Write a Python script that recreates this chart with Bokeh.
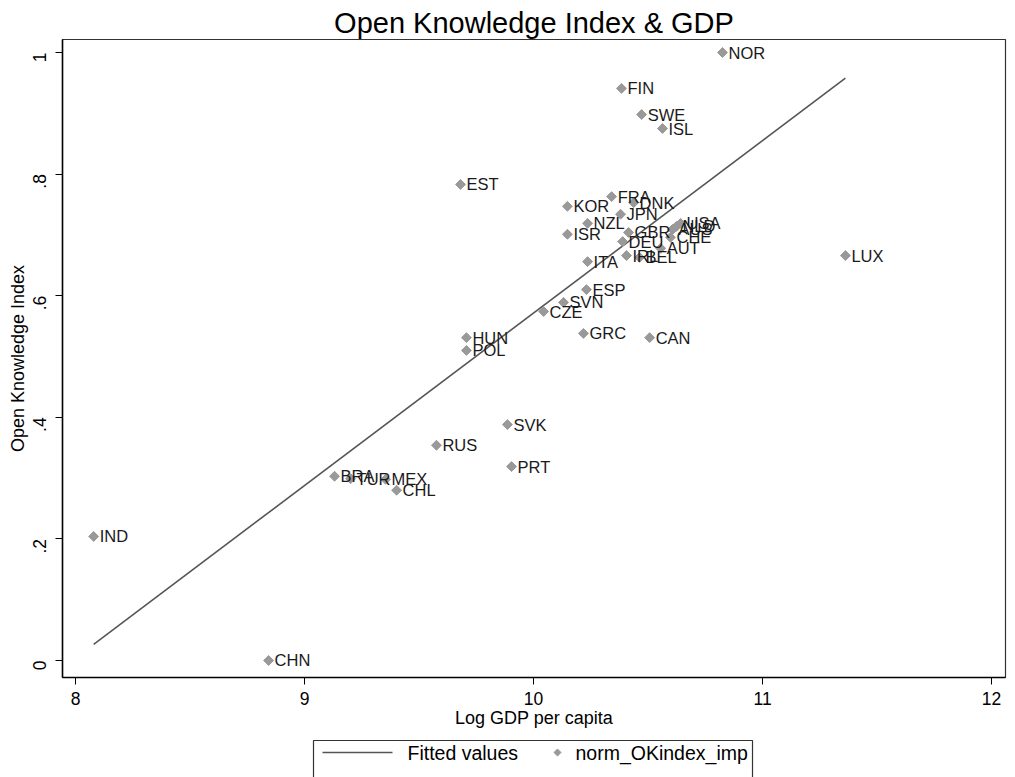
import math
import numpy as np
from bokeh.plotting import figure
from bokeh.layouts import column
from bokeh.models import ColumnDataSource, FixedTicker, Range1d
from bokeh.core.properties import value
from bokeh.embed import file_html
from bokeh.resources import INLINE

# Country codes, log GDP per capita, normalised Open Knowledge Index
countries = ["NOR", "FIN", "SWE", "ISL", "EST", "FRA", "DNK", "KOR", "JPN", "NZL",
             "ISR", "GBR", "DEU", "CHE", "USA", "NLD", "AUS", "AUT", "IRL", "BEL",
             "ITA", "LUX", "ESP", "SVN", "CZE", "HUN", "POL", "GRC", "CAN", "SVK",
             "RUS", "PRT", "BRA", "TUR", "MEX", "CHL", "IND", "CHN"]
log_gdp = [10.825, 10.384, 10.472, 10.563, 9.681, 10.341, 10.437, 10.148, 10.380, 10.236,
           10.148, 10.415, 10.389, 10.598, 10.642, 10.624, 10.607, 10.555, 10.406, 10.463,
           10.236, 11.362, 10.231, 10.131, 10.044, 9.707, 9.707, 10.218, 10.507, 9.886,
           9.576, 9.904, 9.131, 9.201, 9.354, 9.402, 8.079, 8.843]
ok_index = [1.000, 0.941, 0.898, 0.875, 0.783, 0.763, 0.753, 0.747, 0.734, 0.719,
            0.701, 0.704, 0.689, 0.696, 0.719, 0.714, 0.709, 0.678, 0.666, 0.663,
            0.656, 0.666, 0.610, 0.589, 0.574, 0.531, 0.510, 0.538, 0.531, 0.388,
            0.354, 0.319, 0.303, 0.299, 0.298, 0.280, 0.204, 0.000]

x_ticks = [8, 9, 10, 11, 12]
y_ticks = [0, 0.2, 0.4, 0.6, 0.8, 1.0]
y_tick_labels = {0: "0", 0.2: ".2", 0.4: ".4", 0.6: ".6", 0.8: ".8", 1: "1"}
legend_labels = ["Fitted values", "norm_OKindex_imp"]

FONT = "Liberation Sans"
LINE_COLOR = "#555555"
MARK_COLOR = "#999999"

# Linear fit of the index on log GDP
slope, intercept = np.polyfit(log_gdp, ok_index, 1)
fit_x = [min(log_gdp), max(log_gdp)]
fit_y = [intercept + slope * v for v in fit_x]

src = ColumnDataSource(dict(x=log_gdp, y=ok_index, code=countries))

# ---- main scatter panel ----
p = figure(width=1015, height=735, output_backend="svg", toolbar_location=None,
           x_range=(7.943, 12.061), y_range=(-0.028, 1.0214),
           min_border_left=62, min_border_right=10, min_border_top=39, min_border_bottom=58)
p.title.text = "Open Knowledge Index & GDP"
p.title.align = "center"
p.title.text_font = FONT
p.title.text_font_size = "29px"
p.title.text_font_style = "normal"
p.title.text_color = "#000000"
p.title.standoff = 2

p.xgrid.visible = False
p.ygrid.visible = False
p.outline_line_color = "#333333"
p.outline_line_width = 1.2

p.line(fit_x, fit_y, line_color=LINE_COLOR, line_width=1.6)
p.scatter("x", "y", source=src, marker="square", angle=math.pi / 4, size=7,
          fill_color=MARK_COLOR, line_color=MARK_COLOR)
p.text("x", "y", text="code", source=src, x_offset=6, text_baseline="middle",
       text_font=value(FONT), text_font_size="16.5px", text_color="#1a1a1a")

for ax in (p.xaxis[0], p.yaxis[0]):
    ax.axis_line_color = "#000000"
    ax.axis_line_width = 1.5
    ax.major_tick_line_color = "#000000"
    ax.major_tick_out = 7
    ax.major_tick_in = 0
    ax.minor_tick_line_color = None
    ax.major_label_text_font = FONT
    ax.major_label_text_font_size = "17.5px"
    ax.major_label_text_color = "#000000"
    ax.axis_label_text_font = FONT
    ax.axis_label_text_font_size = "18px"
    ax.axis_label_text_font_style = "normal"
    ax.axis_label_text_color = "#000000"

p.xaxis.ticker = FixedTicker(ticks=x_ticks)
p.yaxis.ticker = FixedTicker(ticks=y_ticks)
p.yaxis.major_label_overrides = y_tick_labels
p.yaxis.major_label_orientation = math.pi / 2
p.xaxis.axis_label = "Log GDP per capita"
p.yaxis.axis_label = "Open Knowledge Index"
p.xaxis.major_label_standoff = 7
p.xaxis.axis_label_standoff = 0
p.yaxis.major_label_standoff = 16
p.yaxis.axis_label_standoff = -4

# ---- legend strip below the plot (frame-aligned pixel coordinates) ----
lg = figure(width=1015, height=42, output_backend="svg", toolbar_location=None,
            x_range=Range1d(62, 1005), y_range=Range1d(0, 42),
            min_border=0, outline_line_color=None)
lg.axis.visible = False
lg.grid.visible = False
lg.quad(left=313, right=752, top=37, bottom=-20, fill_color=None,
        line_color="#333333", line_width=1.2)
lg.line([322, 392], [25, 25], line_color=LINE_COLOR, line_width=1.6)
lg.scatter([557], [25], marker="square", angle=math.pi / 4, size=5,
           fill_color=MARK_COLOR, line_color=MARK_COLOR)
lg.text([407, 575], [25, 25], text=legend_labels, text_baseline="middle",
        text_font=value(FONT), text_font_size="19.5px", text_color="#000000")

layout = column(p, lg, spacing=0)
open("out.html", "w").write(file_html(layout, INLINE))
